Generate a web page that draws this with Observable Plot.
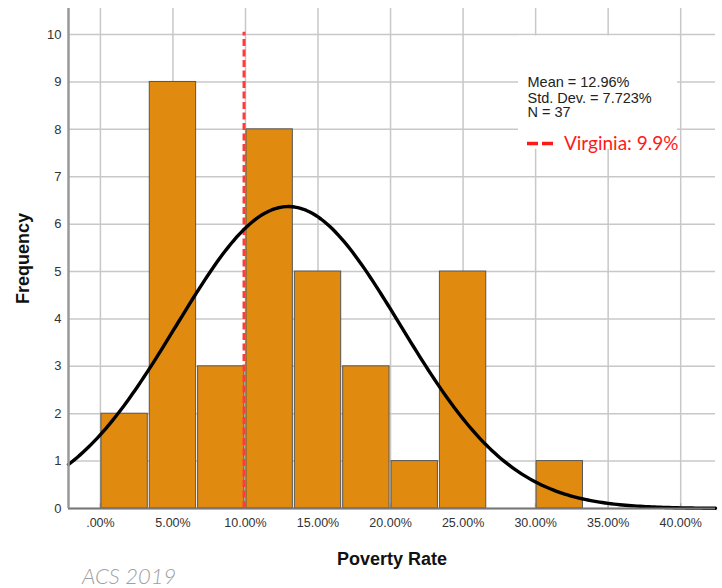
<!DOCTYPE html>
<html>
<head>
<meta charset="utf-8">
<script src="https://cdn.jsdelivr.net/npm/d3@7"></script>
<script src="https://cdn.jsdelivr.net/npm/@observablehq/plot@0.6"></script>
<style>
  body { margin: 0; background: #fff; }
  #wrap { position: relative; width: 722px; height: 588px; }
  #caption { position: absolute; left: 82px; top: 563px; font-family: Lato, "Open Sans", sans-serif; font-style: italic; font-weight: 300; font-size: 22px; line-height: 26px; color: #a0a0a0; }
</style>
</head>
<body>
<div id="wrap"><div id="caption">ACS 2019</div></div>
<script>
// Histogram data (poverty rate bins, width 3.333%)
const binStarts = [0, 3.3333, 6.6667, 10, 13.3333, 16.6667, 20, 23.3333, 26.6667, 30];
const binEnds   = [3.3333, 6.6667, 10, 13.3333, 16.6667, 20, 23.3333, 26.6667, 30, 33.3333];
const counts    = [2, 9, 3, 8, 5, 3, 1, 5, 0, 1];

// Summary statistics shown in the legend
const meanRate = 12.96;
const sdRate = 7.723;
const nCount = 37;
const binWidth = 3.3333;
const virginiaRate = 9.9;

// Axis ticks
const xTicks = [0, 5, 10, 15, 20, 25, 30, 35, 40];
const xTickLabels = [".00%", "5.00%", "10.00%", "15.00%", "20.00%", "25.00%", "30.00%", "35.00%", "40.00%"];
const yTicks = [0, 1, 2, 3, 4, 5, 6, 7, 8, 9, 10];

const xDomain = [-2.2, 42.4];
const yDomain = [0, 10.55];

const bins = binStarts.map((s, i) => ({x1: s, x2: binEnds[i], count: counts[i]})).filter(d => d.count > 0);

// fitted normal curve scaled to counts
const curveX = d3.range(xDomain[0], xDomain[1] + 0.001, 0.2);
const curve = curveX.map(x => ({
  x,
  y: nCount * binWidth / (sdRate * Math.sqrt(2 * Math.PI)) * Math.exp(-0.5 * ((x - meanRate) / sdRate) ** 2)
}));

const xFmt = d => xTickLabels[xTicks.indexOf(d)];

const chart = Plot.plot({
  width: 722,
  height: 588,
  marginLeft: 68,
  marginRight: 7,
  marginTop: 8,
  marginBottom: 80,
  style: {fontFamily: "'Liberation Sans', Arial, sans-serif", fontSize: "12px", color: "#333", background: "#fff"},
  x: {domain: xDomain},
  y: {domain: yDomain},
  marks: [
    Plot.gridX(xTicks.filter(d => d !== 40), {stroke: "#c8c8c8", strokeOpacity: 1, strokeWidth: 1.5}),
    Plot.gridY(yTicks, {stroke: "#c8c8c8", strokeOpacity: 1, strokeWidth: 1.5}),
    // legend background box hiding grid
    Plot.rect([0], {x1: () => 28.82, x2: () => 39.78, y1: () => 7.58, y2: () => 9.97, fill: "white"}),
    Plot.gridX([40], {stroke: "#c8c8c8", strokeOpacity: 1, strokeWidth: 1.5}),
    Plot.ruleX(xTicks, {x: d => d, y1: 0, y2: 0.1, stroke: "#aaa", strokeWidth: 1.5}),
    Plot.rectY(bins, {x1: "x1", x2: "x2", y: "count", fill: "#E08B10", stroke: "#555", strokeWidth: 1, insetLeft: 1, insetRight: 1}),
    Plot.ruleX([virginiaRate], {y1: 0, y2: 10.05, stroke: "#ff3b3b", strokeWidth: 3, strokeDasharray: "7,3.5"}),
    Plot.line(curve, {x: "x", y: "y", stroke: "#000", strokeWidth: 3.4}),
    Plot.ruleY([0], {stroke: "#777", strokeWidth: 2}),
    Plot.ruleX([xDomain[0]], {stroke: "#999", strokeWidth: 2.5}),
    Plot.axisX(xTicks, {tickSize: 0, tickPadding: 10, label: null, fontSize: 12.5, fill: "#333", tickFormat: xFmt}),
    Plot.axisY(yTicks, {tickSize: 0, tickPadding: 7, label: null, fontSize: 13, fill: "#333"}),
    Plot.text([`Mean = ${meanRate}%`, `Std. Dev. = ${sdRate}%`, `N = ${nCount}`], {
      x: () => 29.44, y: (d, i) => [8.99, 8.66, 8.35][i], text: d => d, textAnchor: "start",
      fontSize: 14.5, fill: "#222", fontFamily: "'Liberation Sans', Arial, sans-serif"
    }),
    Plot.ruleY([7.7], {x1: 29.44, x2: 31.4, stroke: "#ff1a1a", strokeWidth: 3.5, strokeDasharray: "11,4"}),
    Plot.text([`Virginia: ${virginiaRate}%`], {
      x: () => 31.95, y: () => 7.7, text: d => d, textAnchor: "start",
      fontSize: 19, fill: "#ff1a1a", fontFamily: "Lato, 'Open Sans', sans-serif"
    }),
    Plot.text(["Frequency"], {frameAnchor: "left", textAnchor: "middle", dx: -45, rotate: -90, fontWeight: "bold", fontSize: 18, fill: "#111"}),
    Plot.text(["Poverty Rate"], {frameAnchor: "bottom", textAnchor: "middle", dy: 56, fontWeight: "bold", fontSize: 18, fill: "#111"})
  ]
});
document.getElementById("wrap").prepend(chart);
</script>
</body>
</html>
